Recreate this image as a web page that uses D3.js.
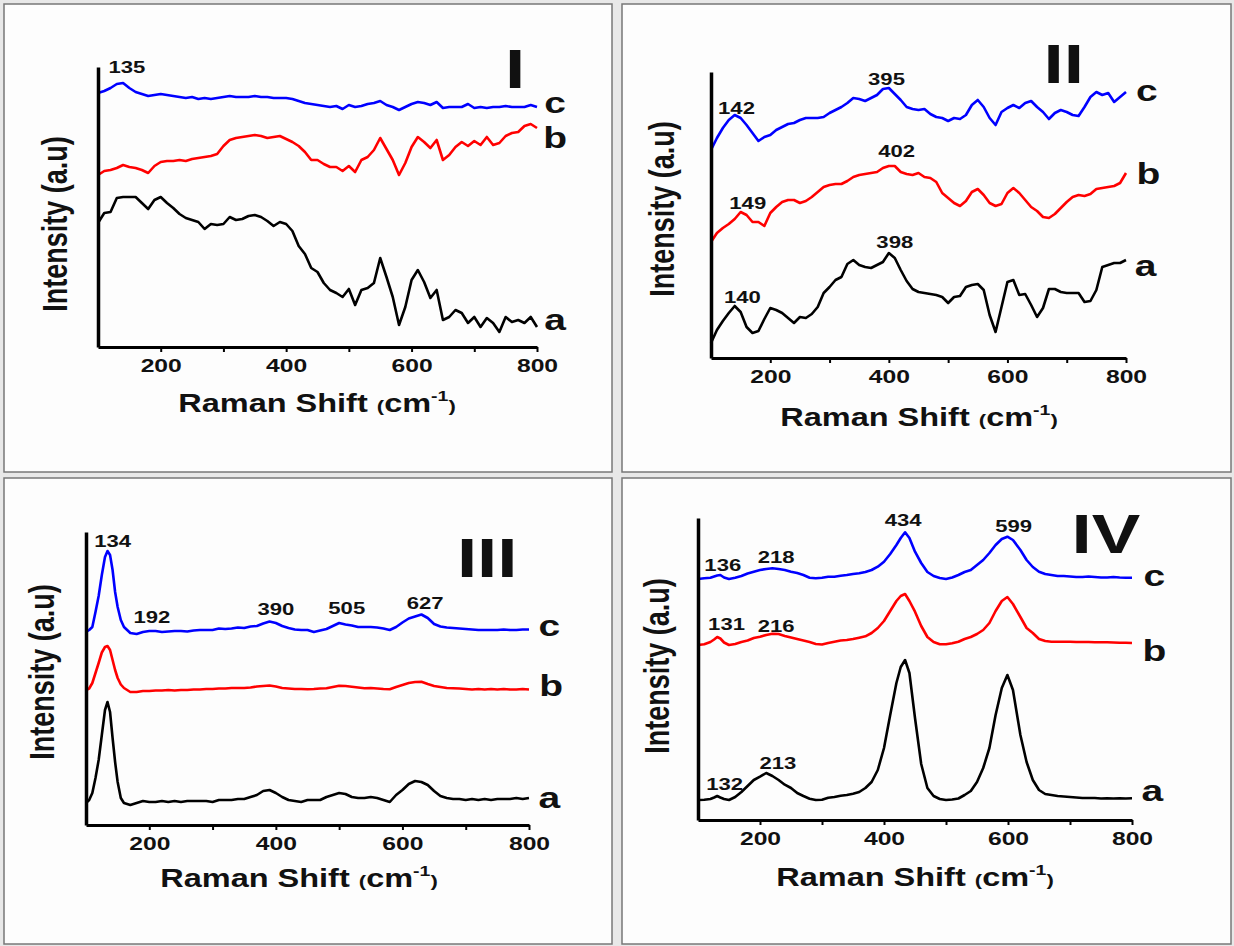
<!DOCTYPE html>
<html>
<head>
<meta charset="utf-8">
<script src="https://cdn.jsdelivr.net/npm/d3@7"></script>
<style>
body { margin: 0; background: #fff; }
svg text { font-family: "Liberation Sans", Arial, sans-serif; font-weight: bold; fill: #111; }
</style>
</head>
<body>
<svg id="raman" width="1234" height="946"></svg>
<script>
// ---- data (Raman shift in cm-1, intensity in a.u.) ----
var shiftI = [100,110,120,130,140,150,160,170,180,190,
    200,210,220,230,240,250,260,270,280,290,
    300,310,320,330,340,350,360,370,380,390,
    400,410,420,430,440,450,460,470,480,490,
    500,510,520,530,540,550,560,570,580,590,
    600,610,620,630,640,650,660,670,680,690,
    700,710,720,730,740,750,760,770,780,790,800];
var shiftII = shiftI;

var spectraI_a = [124,134,135,149,150,150,150,144,138,147,
    150,144,139,133,129,127,125,118,123,122,
    123,130,127,128,131,132,130,126,121,125,
    123,116,101,93,79,75,64,57,54,50,
    58,42,57,59,64,89,70,50,22,40,
    67,77,65,49,57,27,30,37,34,24,
    30,20,29,24,15,30,25,27,24,30,20];
var spectraI_b = [172,176,177,179,182,180,179,177,174,181,
    185,186,186,187,186,188,189,190,191,193,
    201,207,209,210,211,212,211,209,210,211,
    208,205,201,195,187,187,183,180,180,176,
    181,175,187,190,197,209,198,187,172,184,
    200,210,205,199,207,187,192,200,205,201,
    206,202,210,202,204,211,214,215,221,223,219];
var spectraI_c = [254,256,259,263,264,259,255,253,251,252,
    253,252,251,250,249,250,248,249,248,249,
    250,251,250,250,250,251,250,250,249,249,
    249,248,246,244,243,242,241,240,241,238,
    242,240,241,243,244,246,242,240,237,240,
    243,245,244,242,245,239,240,240,240,243,
    239,240,239,240,240,241,240,240,240,242,240];

var spectraII_a = [15,28,37,45,52,46,31,25,27,39,
    50,48,45,40,35,41,40,44,51,65,
    71,78,81,94,98,93,91,90,93,96,
    105,100,88,77,69,66,65,64,63,61,
    55,61,62,71,73,74,68,43,26,51,
    76,78,63,64,53,41,50,69,69,66,
    65,65,65,56,57,68,91,93,95,95,98];
var spectraII_b = [116,125,130,134,139,146,143,136,136,132,
    145,151,156,158,158,155,157,161,166,171,
    173,174,174,177,181,183,184,185,186,190,
    192,192,186,184,183,185,181,180,176,165,
    160,155,152,157,166,169,163,155,152,154,
    165,170,165,158,151,147,141,140,144,150,
    156,161,163,162,164,169,170,171,172,175,185];
var spectraII_c = [208,220,230,238,243,240,233,225,217,221,
    223,228,231,234,235,238,240,240,240,241,
    245,248,251,255,260,259,257,260,263,269,
    270,264,258,251,249,248,249,244,241,240,
    237,240,239,243,253,258,251,240,233,246,
    250,253,250,255,257,251,246,239,245,248,
    246,243,242,251,261,266,263,265,256,261,266];

var shiftIII = [100,105,110,115,120,125,130,134,138,142,146,150,155,160,
    170,180,190,200,210,220,230,240,250,260,
    270,280,290,300,310,320,330,340,350,360,
    370,380,390,400,410,420,430,440,450,460,
    470,480,490,500,510,520,530,540,550,560,
    570,580,590,600,610,620,630,640,650,660,
    670,680,690,700,710,720,730,740,750,760,
    770,780,790,800];
var spectraIII_a = [22,25,32,47,65,90,115,123,113,87,63,43,27,22,
    20,22,24,23,23,24,23,24,23,24,
    24,24,24,23,25,25,25,26,26,28,
    30,34,35,32,28,25,24,23,25,25,
    25,28,30,32,31,28,27,27,28,27,
    25,23,30,35,41,44,43,40,34,29,
    27,26,26,25,26,25,26,25,26,26,
    26,27,26,27];
var spectraIII_b = [135,136.5,142,152,162,172.5,178,179,175,165,155,147,140.5,137,
    133,133,134,134,134.5,134.5,135,134.5,135,135,
    135.5,135.5,136,136,136.5,136.5,137,137,137,137.5,
    138.5,139,139.5,138.5,137,136.5,136,136,135.7,136,
    136.5,136.7,138,139.3,139,138.3,137.5,136.7,137,136.5,
    136,135.7,138,140,142,143,143.3,141,139,138,
    137,136.7,136.5,136,135.5,136,135.5,136,135.5,136,
    135.5,135.5,136,135.5];
var spectraIII_c = [193,195,198,213,229,250,268,274,270,255,233,218,205,198,
    192,191,193,194,194,193,193.5,194,194,193.5,
    194.5,195,195,195,196.5,196,196.5,197.5,197,198.5,
    199,201.5,203.5,202,199,197,195.5,195,195,193,
    194.5,196,199,202,200.5,199.5,198,198,198,197.5,
    196.5,195,198,202.5,206.5,208.5,210.5,207,201,198.5,
    197.5,197,196.5,196,195.5,195,195,195,195,195.5,
    195,195,195.5,195.5];

var shiftIV = [100,110,120,126,131,136,142,
    150,160,170,180,190,200,210,220,230,240,
    250,260,270,280,290,300,310,320,330,340,
    350,360,370,380,390,400,410,420,427,434,441,
    450,460,470,480,490,500,510,520,530,540,
    550,560,570,580,590,599,608,
    620,630,640,650,660,670,680,690,700,710,
    720,730,740,750,760,770,780,790,800];
var spectraIV_a = [20,20.3,21,22.5,24,22.5,21,
    20,23,28,34,40,43.3,47,44,40,35.3,
    32,27,24,21.3,20,20.3,22.3,23,24.3,25,
    26.3,28,32,38,50,72,105,137,153,160,147,
    102,56,32,24,21,20,20.5,21.5,25,29,
    38,52,72,105,132,145,130,
    85,58,40,30,26,25,24,23.5,23,22.5,
    22,22,22,21.5,21.7,21.5,21.7,21.5,21.7];
var spectraIV_b = [175,175.7,178,180.5,183,181.5,177.5,
    175,176,178,179.5,182,183.3,185,186.3,186,184,
    182.5,181,179.5,178,176,175.5,177,178.3,179.5,180,
    181,182.3,183.7,187,192,199,209,219,224,226,219,
    208.3,194,183,178,175.7,175.7,176.7,178.3,181,183,
    186,190,197,209,219,223,216,
    203,192,187,181,179,178.3,178.3,178.3,178.3,178,
    178,178,177.7,177.7,177.7,177.5,177.3,177.3,177];
var spectraIV_c = [241,241.7,242.3,243.5,244.5,245,242.5,
    241,242.3,244,246.5,248.3,250,251,251.7,251,250,
    248.3,247,245,242.3,241.7,242.3,243.3,243.3,244.3,245,
    246,246.7,248,250,253.3,258.3,266,275,282,287.7,282,
    268.3,257,248,244,242,241,242.5,245,248,250,
    255,260,267,275,281,283.3,280,
    270,260,253,248.3,246,245,244,244,243.5,243,
    243,243.5,243,242.5,242.5,243,242.5,242.3,242.3];

// axis ticks and series
var tickShifts = [200,300,400,500,600,700,800];
var labeledTicks = [200,400,600,800];
var seriesNames = ['a','b','c'];
var seriesColors = ['#000000','#ff0000','#0000ff'];

// peak labels: [text, shift, intensity]
var peaksI = [['135',146,274]];
var peaksII = [['142',143,244],['395',396,273],['402',413,201],['149',162,149],['398',410,110],['140',153,55]];
var peaksIII = [['134',142,278],['192',204,202],['390',400,210],['505',512,211],['627',636,216]];
var peaksIV = [['136',140,249],['218',226,257],['131',146,190],['216',226,188],['132',143,30],['213',229,51],['434',431,294],['599',609,288]];

// sample letters a, b, c: [shift, intensity]
var lettersI = [[829,17],[829,199],[829,234]];
var lettersII = [[833,82],[838,174],[835,257]];
var lettersIII = [[832,17],[835,129],[832,189]];
var lettersIV = [[833,19],[836,159],[836,234]];

var panels = [
    {num:'I', numAt:[765,259.5], box:[4,4,612,472], left:98, right:537, top:67, bottom:347,
     xTitle:[317,412], yTitle:[58,224], shift:shiftI, spectra:[spectraI_a,spectraI_b,spectraI_c], peaks:peaksI, letters:lettersI},
    {num:'II', numAt:[695,275.5], box:[622,4,1231,472], left:711, right:1126, top:72, bottom:358,
     xTitle:[919,426], yTitle:[665,209], shift:shiftII, spectra:[spectraII_a,spectraII_b,spectraII_c], peaks:peaksII, letters:lettersII},
    {num:'III', numAt:[734,248], box:[4,478,612,944], left:86, right:529, top:532, bottom:825,
     xTitle:[299,887], yTitle:[45,672], shift:shiftIII, spectra:[spectraIII_a,spectraIII_b,spectraIII_c], peaks:peaksIII, letters:lettersIII},
    {num:'IV', numAt:[758,267], box:[622,478,1231,944], left:698, right:1132, top:518, bottom:820,
     xTitle:[915,886], yTitle:[660,666], shift:shiftIV, spectra:[spectraIV_a,spectraIV_b,spectraIV_c], peaks:peaksIV, letters:lettersIV}
];

// the original figure is stretched sideways, so all text gets the same widening
var STRETCH = 1.3;

var svg = d3.select('#raman');

// grey page behind the four framed panels
svg.append('rect').attr('width',1234).attr('height',946).attr('fill','#e8e8e8');

panels.forEach(function(p){ drawPanel(p); });

function placeText(sel, px, py){
    return sel.attr('transform','translate(' + px + ',' + py + ')scale(' + STRETCH + ',1)');
}

function drawPanel(p){
    var g = svg.append('g');

    g.append('rect')
        .attr('x', p.box[0]).attr('y', p.box[1])
        .attr('width', p.box[2]-p.box[0]).attr('height', p.box[3]-p.box[1])
        .attr('fill','#fdfdfd')
        .attr('stroke','#777')
        .attr('stroke-width',1.5);

    var x = d3.scaleLinear().domain([100,800]).range([p.left,p.right]);
    var y = d3.scaleLinear().domain([0,p.bottom-p.top]).range([p.bottom,p.top]);

    // spectra
    var line = d3.line()
        .x(function(d){ return x(d[0]); })
        .y(function(d){ return y(d[1]); });

    p.spectra.forEach(function(vals,i){
        var pts = p.shift.map(function(s,j){ return [s, vals[j]]; });
        g.append('path')
            .datum(pts)
            .attr('d', line)
            .attr('fill','none')
            .attr('stroke', seriesColors[i])
            .attr('stroke-width',2.6)
            .attr('stroke-linejoin','round');
    });

    // x axis
    var xAxis = g.append('g')
        .attr('transform','translate(0,' + p.bottom + ')')
        .call(d3.axisBottom(x)
            .tickValues(tickShifts)
            .tickSize(5)
            .tickSizeOuter(0)
            .tickPadding(7)
            .tickFormat(function(d){ return labeledTicks.indexOf(d) >= 0 ? d : ''; }));
    xAxis.select('.domain').attr('stroke','#000').attr('stroke-width',3);
    xAxis.selectAll('.tick line').attr('stroke','#000').attr('stroke-width',2);
    xAxis.selectAll('.tick text')
        .style('font-size','19px')
        .style('font-family','"Liberation Sans", Arial, sans-serif')
        .style('font-weight','bold')
        .attr('fill','#111')
        .attr('transform','scale(' + STRETCH + ',1)');

    // y axis: line only
    var yAxis = g.append('g')
        .attr('transform','translate(' + p.left + ',0)')
        .call(d3.axisLeft(y).tickValues([]).tickSizeOuter(0));
    yAxis.select('.domain').attr('stroke','#000').attr('stroke-width',3.5);

    // axis titles
    var xt = placeText(g.append('text'), p.xTitle[0], p.xTitle[1])
        .attr('text-anchor','middle')
        .style('font-size','25px');
    xt.append('tspan').text('Raman Shift ');
    xt.append('tspan').text('(').style('font-size','17px');
    xt.append('tspan').text('cm');
    xt.append('tspan').text('-1').style('font-size','15px').attr('dy',-11);
    xt.append('tspan').text(')').style('font-size','17px').attr('dy',11);

    g.append('text')
        .attr('transform','translate(' + (p.yTitle[0]+9) + ',' + p.yTitle[1] + ')scale(' + STRETCH + ',1)rotate(-90)')
        .attr('text-anchor','middle')
        .style('font-size','27px')
        .text('Intensity (a.u)');

    // peak positions
    g.selectAll('text.peak')
        .data(p.peaks)
        .enter()
        .append('text')
        .attr('class','peak')
        .attr('transform', function(d){
            return 'translate(' + x(d[1]) + ',' + y(d[2]) + ')scale(' + STRETCH + ',1)';
        })
        .attr('text-anchor','middle')
        .style('font-size','17px')
        .text(function(d){ return d[0]; });

    // sample letters
    g.selectAll('text.letter')
        .data(p.letters)
        .enter()
        .append('text')
        .attr('class','letter')
        .attr('transform', function(d){
            return 'translate(' + x(d[0]) + ',' + y(d[1]) + ')scale(' + STRETCH + ',1)';
        })
        .attr('text-anchor','middle')
        .style('font-size','30px')
        .text(function(d,i){ return seriesNames[i]; });

    // panel numeral
    placeText(g.append('text'), x(p.numAt[0]), y(p.numAt[1]))
        .attr('text-anchor','middle')
        .style('font-size','56px')
        .text(p.num);
}
</script>
</body>
</html>
